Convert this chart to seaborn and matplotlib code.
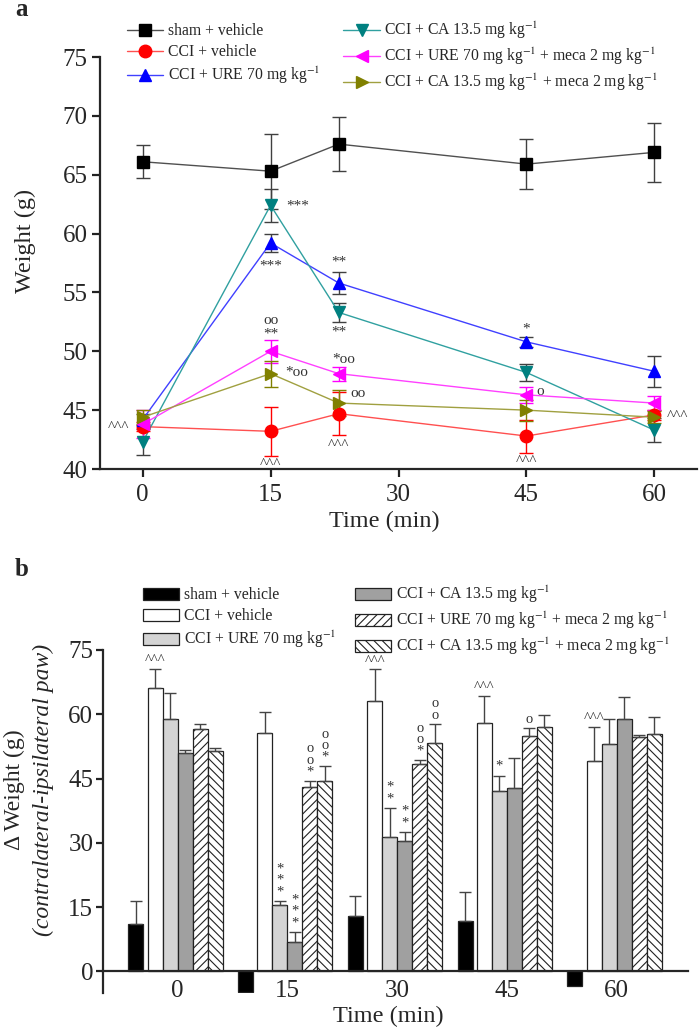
import numpy as np
import pandas as pd
import matplotlib
matplotlib.use("Agg")
import matplotlib.pyplot as plt
from matplotlib.lines import Line2D
from matplotlib.patches import Patch
from matplotlib.container import BarContainer
import seaborn as sns

# ---------------- data ----------------
groups = ["sham + vehicle", "CCI + vehicle", "CCI + URE 70 mg kg$^{-1}$",
          "CCI + CA 13.5 mg kg$^{-1}$",
          "CCI + URE 70 mg kg$^{-1}$ + meca 2 mg kg$^{-1}$",
          "CCI + CA 13.5 mg kg$^{-1}$ + meca 2 mg kg$^{-1}$"]

# panel a: weight (g) vs time
time_a = [0, 15, 23, 45, 60]
sham_a = [66.1, 65.3, 67.6, 65.9, 66.9]
sham_a_err = [1.4, 3.2, 2.3, 2.1, 2.5]
cci_a = [43.6, 43.2, 44.7, 42.8, 44.6]
cci_a_err = [0.4, 2.1, 1.8, 1.4, 0.4]
ure_a = [44.2, 59.2, 55.8, 50.8, 48.3]
ure_a_err = [0.5, 0.8, 0.9, 0.4, 1.3]
ca_a = [42.3, 62.4, 53.3, 48.2, 43.3]
ca_a_err = [1.1, 1.4, 0.8, 0.7, 1.0]
uremeca_a = [43.8, 50.0, 48.1, 46.3, 45.6]
uremeca_a_err = [1.2, 1.0, 0.6, 0.7, 0.6]
cameca_a = [44.4, 48.1, 45.6, 45.0, 44.4]
cameca_a_err = [0.6, 1.1, 1.1, 0.9, 0.5]

# panel b: delta weight (g)
time_b = ["0", "15", "30", "45", "60"]
sham_b = [11.1, -4.8, 12.8, 11.7, -3.4]
sham_b_err = [5.4, 0, 4.7, 6.7, 0]
cci_b = [66.1, 55.6, 63.1, 57.9, 49.0]
cci_b_err = [4.5, 4.9, 7.4, 6.4, 8.0]
ure_b = [58.8, 15.5, 31.3, 42.0, 53.1]
ure_b_err = [6.1, 0.9, 6.8, 3.7, 5.7]
ca_b = [50.9, 6.8, 30.3, 42.7, 58.8]
ca_b_err = [0.8, 2.4, 2.3, 7.0, 5.2]
uremeca_b = [56.6, 43.0, 48.4, 54.9, 54.6]
uremeca_b_err = [1.2, 1.5, 0.9, 1.8, 0.6]
cameca_b = [51.4, 44.4, 53.4, 57.1, 55.4]
cameca_b_err = [0.7, 3.5, 4.3, 2.7, 4.0]

# ---------------- style ----------------
sns.set_theme(style="ticks")
plt.rcParams["font.family"] = ["Liberation Serif", "DejaVu Serif"]
plt.rcParams["mathtext.fontset"] = "stix"
plt.rcParams["axes.linewidth"] = 1.6
plt.rcParams["xtick.major.width"] = 1.6
plt.rcParams["ytick.major.width"] = 1.6
plt.rcParams["hatch.linewidth"] = 0.8

fig = plt.figure(figsize=(7.0, 10.31), dpi=100)

# ================= panel a =================
axa = fig.add_axes([100/700, 1-469/1031, 597/700, (469-57)/1031])
line_cols = ["#505050", "#ff5050", "#4040ff", "#30a0a0", "#ff40ff", "#a0a040"]
mark_cols = ["black", "red", "blue", "#008080", "magenta", "#808000"]
err_cols = ["#404040", "red", "#404040", "#404040", "magenta", "#808000"]
markers = ["s", "o", "^", "v", "<", ">"]
series_a = [sham_a, cci_a, ure_a, ca_a, uremeca_a, cameca_a]
errs_a = [sham_a_err, cci_a_err, ure_a_err, ca_a_err, uremeca_a_err, cameca_a_err]

rows = []
for g, vals in zip(groups, series_a):
    for t, v in zip(time_a, vals):
        rows.append({"time": t, "weight": v, "group": g})
dfa = pd.DataFrame(rows)

for i, g in enumerate(groups):
    sub = dfa[dfa.group == g]
    axa.errorbar(sub["time"], sub["weight"], yerr=errs_a[i], fmt="none",
                 ecolor=err_cols[i], elinewidth=1.0, capsize=5, capthick=1.0,
                 zorder=2 + i)
    sns.lineplot(data=sub, x="time", y="weight", ax=axa, color=line_cols[i],
                 linewidth=1.0, legend=False, zorder=3 + i)
    axa.plot(sub["time"], sub["weight"], linestyle="none", marker=markers[i],
             markersize=9, color=mark_cols[i], zorder=10 + i)

axa.set_xlim(-5, 65)
axa.set_ylim(40, 75)
axa.set_xticks([0, 15, 30, 45, 60])
axa.set_yticks([40, 45, 50, 55, 60, 65, 70, 75])
axa.tick_params(axis="both", labelsize=18, length=6, direction="out", color="#222222")
axa.tick_params(axis="y", pad=3)
axa.tick_params(axis="x", pad=5)
axa.set_xlabel("Time (min)", fontsize=17.5)
axa.set_ylabel("Weight (g)", fontsize=17.5)
axa.xaxis.set_label_coords((384-100)/597, (469-511)/412)
axa.yaxis.set_label_coords((36-100)/597, (469-241)/412)
sns.despine(ax=axa)

ann = dict(fontsize=11, color="#333333")
axa.text(16.8, 62.3, "***", ha="left", va="center", **ann)
axa.text(15, 57.2, "***", ha="center", va="center", **ann)
axa.text(23, 57.6, "**", ha="center", va="center", **ann)
axa.text(23, 51.6, "**", ha="center", va="center", **ann)
axa.text(15, 52.6, "oo", ha="center", va="center", **ann)
axa.text(15, 51.5, "**", ha="center", va="center", **ann)
axa.text(16.7, 48.2, "*oo", ha="left", va="center", **ann)
axa.text(22.2, 49.3, "*oo", ha="left", va="center", **ann)
axa.text(24.3, 46.4, "oo", ha="left", va="center", **ann)
axa.text(45, 51.9, "*", ha="center", va="center", **ann)
axa.text(46.2, 46.6, "o", ha="left", va="center", **ann)
for (x, y) in [(-2.8, 43.5), (15, 40.35), (23, 42.0), (45, 40.6), (62.7, 44.5)]:
    axa.text(x, y, "^^^", ha="center", va="center", **ann)

handles_a = [Line2D([0], [0], color=line_cols[i], marker=markers[i],
                    markerfacecolor=mark_cols[i], markeredgecolor=mark_cols[i],
                    markersize=9, linewidth=1.0) for i in range(6)]
fig.legend(handles_a, groups, loc="upper left", bbox_to_anchor=(116/700, 1-9/1031),
           ncol=2, frameon=False, fontsize=11.3, handlelength=2.3, handletextpad=0.3,
           columnspacing=1.5, labelspacing=0.3, borderpad=0.2)

fig.text(22/700, 1-10/1031, "a", fontsize=18, fontweight="bold", ha="center", va="center")

# ================= panel b =================
axb = fig.add_axes([103/700, 1-992.7/1031, 585/700, (992.7-650)/1031])
bar_cols = ["black", "white", "#d4d4d4", "#a0a0a0", "white", "white"]
hatches = [None, None, None, None, "////", "\\\\\\\\"]
series_b = [sham_b, cci_b, ure_b, ca_b, uremeca_b, cameca_b]
errs_b = [sham_b_err, cci_b_err, ure_b_err, ca_b_err, uremeca_b_err, cameca_b_err]

rows = []
for g, vals in zip(groups, series_b):
    for t, v in zip(time_b, vals):
        rows.append({"time": t, "dw": v, "group": g})
dfb = pd.DataFrame(rows)
sns.barplot(data=dfb, x="time", y="dw", hue="group", hue_order=groups, order=time_b,
            palette=bar_cols, width=0.82, edgecolor="#222222", linewidth=0.9,
            errorbar=None, legend=False, ax=axb, saturation=1)

bar_conts = [c for c in axb.containers if isinstance(c, BarContainer)]
centers = []
for j, cont in enumerate(bar_conts):
    cx = []
    for p in cont.patches:
        if j == 0:
            p.set_x(p.get_x() - 0.04)
        if hatches[j]:
            p.set_hatch(hatches[j])
        cx.append(p.get_x() + p.get_width() / 2)
    centers.append(cx)
for j in range(6):
    cx = np.array(centers[j])
    tops = np.array(series_b[j])
    e = np.array(errs_b[j])
    mask = e > 0
    axb.errorbar(cx[mask], tops[mask], yerr=[np.zeros(mask.sum()), e[mask]],
                 fmt="none", ecolor="#444444", elinewidth=1.0, capsize=4, capthick=1.0,
                 zorder=1)

axb.set_xlim(-0.68, 4.65)
axb.set_ylim(-5, 75)
axb.set_yticks([0, 15, 30, 45, 60, 75])
axb.spines["bottom"].set_position(("data", 0))
sns.despine(ax=axb)
axb.tick_params(axis="y", labelsize=18, length=5, pad=2, direction="out", color="#222222")
axb.tick_params(axis="x", labelsize=18, length=0, pad=6)
axb.set_xlabel("")
axb.set_ylabel("")
fig.text(388/700, 1-1016/1031, "Time (min)", fontsize=17.5, ha="center", va="center")
fig.text(14/700, 1-790/1031, "Δ Weight (g)", fontsize=17, rotation=90,
         ha="center", va="center")
fig.text(43/700, 1-790/1031, "(contralateral-ipsilateral paw)", fontsize=17,
         rotation=90, ha="center", va="center", style="italic")

def vstack(s):
    return "\n".join(list(s))

annb = dict(fontsize=10.5, color="#333333", ha="center", va="bottom", linespacing=0.85)
for i in [0, 2, 3, 4]:
    axb.text(centers[1][i], cci_b[i] + cci_b_err[i] + 0.4, "^^^", **annb)
axb.text(centers[2][1], ure_b[1] + ure_b_err[1] + 0.6, vstack("***"), **annb)
axb.text(centers[3][1], ca_b[1] + ca_b_err[1] + 0.6, vstack("***"), **annb)
axb.text(centers[4][1], uremeca_b[1] + uremeca_b_err[1] + 0.6, vstack("oo*"), **annb)
axb.text(centers[5][1], cameca_b[1] + cameca_b_err[1] + 0.6, vstack("oo*"), **annb)
axb.text(centers[2][2], ure_b[2] + ure_b_err[2] + 0.6, vstack("**"), **annb)
axb.text(centers[3][2], ca_b[2] + ca_b_err[2] + 0.6, vstack("**"), **annb)
axb.text(centers[4][2], uremeca_b[2] + uremeca_b_err[2] + 0.6, vstack("oo*"), **annb)
axb.text(centers[5][2], cameca_b[2] + cameca_b_err[2] + 0.6, vstack("oo"), **annb)
axb.text(centers[2][3], ure_b[3] + ure_b_err[3] + 0.6, "*", **annb)
axb.text(centers[4][3], uremeca_b[3] + uremeca_b_err[3] + 0.6, "o", **annb)

handles_b = [Patch(facecolor=bar_cols[i], edgecolor="#222222", hatch=hatches[i],
                   linewidth=0.9) for i in range(6)]
fig.legend(handles_b, groups, loc="upper left", bbox_to_anchor=(132/700, 1-573/1031),
           ncol=2, frameon=False, fontsize=11.3, handlelength=2.3, handleheight=0.8,
           handletextpad=0.3, columnspacing=1.2, labelspacing=0.3, borderpad=0.2)

fig.text(22/700, 1-569/1031, "b", fontsize=18, fontweight="bold", ha="center", va="center")

fig.savefig("out.png", dpi=100)
